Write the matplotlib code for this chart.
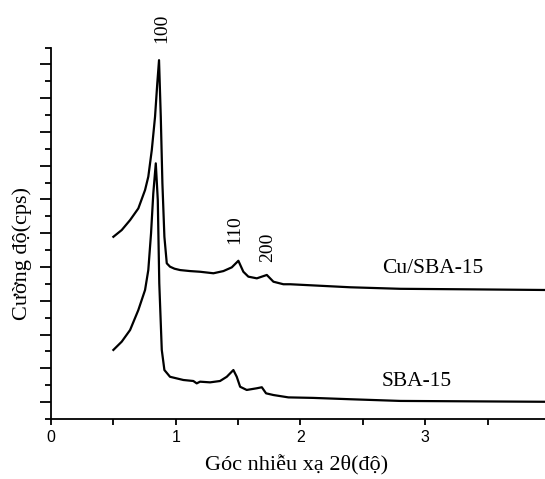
import matplotlib
matplotlib.use('Agg')
import matplotlib.pyplot as plt
import numpy as np
from matplotlib.ticker import FixedLocator

# Cu/SBA-15 curve
cu_x = [0.500, 0.567, 0.634, 0.700, 0.754, 0.780, 0.808, 0.834, 0.852, 0.866,
        0.880, 0.893, 0.909, 0.928, 0.954, 0.990, 1.035, 1.115, 1.195, 1.302,
        1.382, 1.449, 1.502, 1.542, 1.582, 1.650, 1.730, 1.783, 1.863, 1.917,
        2.4, 2.8, 3.33, 3.96]
cu_y = [10.79, 11.19, 11.78, 12.47, 13.56, 14.35, 15.93, 17.90, 19.88, 21.25,
        17.90, 13.96, 10.79, 9.22, 9.02, 8.90, 8.82, 8.76, 8.72, 8.63,
        8.76, 8.98, 9.37, 8.72, 8.43, 8.33, 8.53, 8.13, 7.98, 7.98,
        7.80, 7.71, 7.68, 7.64]

# SBA-15 curve
sba_x = [0.500, 0.567, 0.634, 0.700, 0.754, 0.780, 0.802, 0.820, 0.840, 0.856,
         0.868, 0.888, 0.909, 0.954, 1.061, 1.141, 1.168, 1.195, 1.275, 1.355,
         1.409, 1.462, 1.489, 1.516, 1.569, 1.650, 1.690, 1.724, 1.783, 1.903,
         2.1, 2.4, 2.8, 3.96]
sba_y = [4.09, 4.58, 5.27, 6.45, 7.64, 8.82, 11.00, 13.36, 15.14, 12.97,
         8.03, 4.09, 2.90, 2.50, 2.31, 2.25, 2.11, 2.21, 2.17, 2.25,
         2.50, 2.90, 2.50, 1.91, 1.72, 1.82, 1.88, 1.52, 1.42, 1.28,
         1.25, 1.17, 1.07, 1.02]

peak_labels = ['100', '110', '200']
peak_pos = [(0.885, 23.15), (1.476, 11.19), (1.74, 10.18)]
series_names = ['Cu/SBA-15', 'SBA-15']
name_pos = [(2.654, 8.94), (2.654, 2.20)]

serif = ['Liberation Serif', 'DejaVu Serif']

fig = plt.figure(figsize=(5.45, 4.79), dpi=100)
ax = fig.add_axes([51 / 545, 60 / 479, 494 / 545, 371.5 / 479])

ax.plot(cu_x, cu_y, color='black', lw=1.6, solid_joinstyle='round')
ax.plot(sba_x, sba_y, color='black', lw=1.6, solid_joinstyle='round')

ax.set_xlim(0, 3.96)
ax.set_ylim(0, 22)

ax.spines['top'].set_visible(False)
ax.spines['right'].set_visible(False)
ax.spines['left'].set_linewidth(1.3)
ax.spines['bottom'].set_linewidth(1.3)

ax.set_xticks([0, 1, 2, 3])
ax.xaxis.set_minor_locator(FixedLocator([0.5, 1.5, 2.5, 3.5]))
ax.tick_params(axis='x', which='both', direction='out', length=4, width=1.3,
               labelsize=11.5, pad=4)
ax.set_xticklabels(['0', '1', '2', '3'], family='Liberation Sans')

ax.set_yticks(np.arange(1, 22, 2))
ax.yaxis.set_minor_locator(FixedLocator(np.arange(0, 23, 2)))
ax.tick_params(axis='y', which='major', direction='out', length=8, width=1.3, labelleft=False)
ax.tick_params(axis='y', which='minor', direction='out', length=4, width=1.3)

for lab, (px, py) in zip(peak_labels, peak_pos):
    ax.text(px, py, lab, rotation=90, ha='center', va='center', fontsize=14,
            family=serif, clip_on=False)

for name, (px, py) in zip(series_names, name_pos):
    ax.text(px, py, name, ha='left', va='center', fontsize=15.5, family=serif)

fig.text(297 / 545, 1 - 465 / 479, 'Góc nhiễu xạ 2θ(độ)', ha='center', va='center',
         fontsize=16, family=serif)
fig.text(22 / 545, 1 - 254 / 479, 'Cường độ(cps)', ha='center', va='center',
         rotation=90, fontsize=16, family=serif)

fig.savefig('out.png', dpi=100)
